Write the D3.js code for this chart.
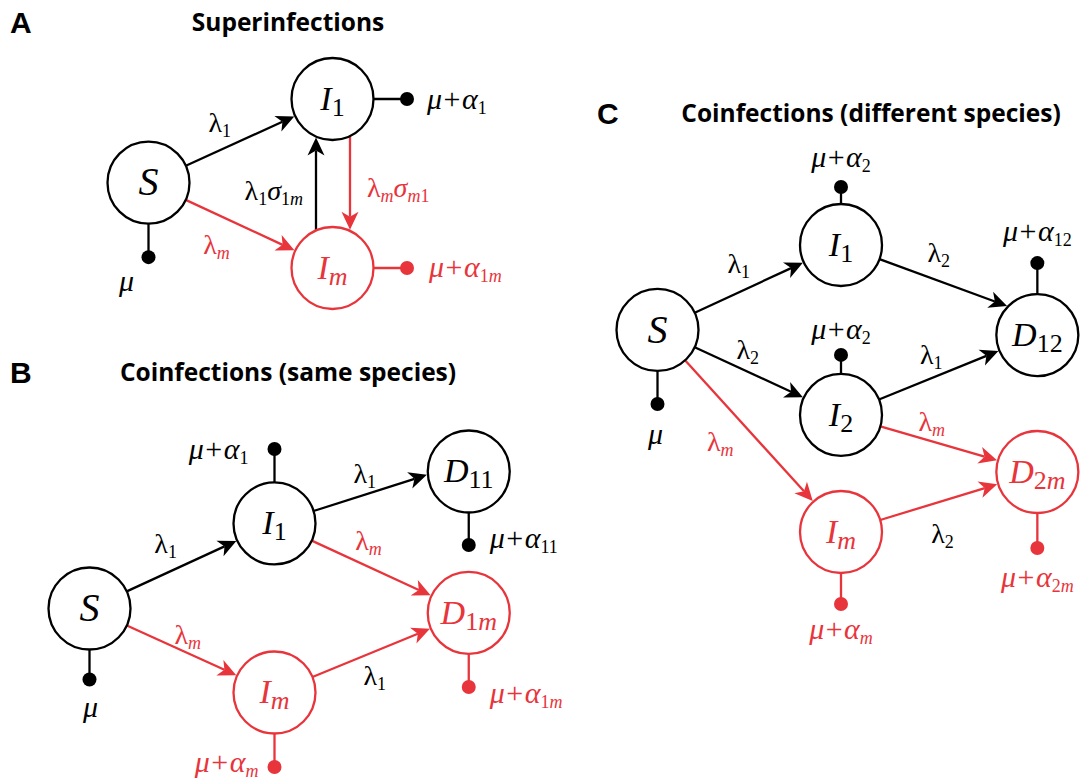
<!DOCTYPE html>
<html>
<head>
<meta charset="utf-8">
<script src="https://cdn.jsdelivr.net/npm/d3@7"></script>
<style>
  body { margin: 0; background: #fff; }
</style>
</head>
<body>
<div class="chart"></div>
<script>
var svgWidth = 1080;
var svgHeight = 781;

// ---- data ----
var panelIds = ["A", "B", "C"];
var panelTitles = ["Superinfections", "Coinfections (same species)", "Coinfections (different species)"];

// compartments: letter + subscript, placed on a column / row grid per panel
var nodesA = [
    {name: "S",  base: "S", sub: "",  col: 0, row: 0.495},
    {name: "I1", base: "I", sub: "1", col: 1, row: 0},
    {name: "Im", base: "I", sub: "m", col: 1, row: 1}
];
var nodesB = [
    {name: "S",   base: "S", sub: "",   col: 0,    row: 0.62},
    {name: "I1",  base: "I", sub: "1",  col: 1,    row: 0.235},
    {name: "Im",  base: "I", sub: "m",  col: 1,    row: 1},
    {name: "D11", base: "D", sub: "11", col: 2.05, row: 0},
    {name: "D1m", base: "D", sub: "1m", col: 2.05, row: 0.64}
];
var nodesC = [
    {name: "S",   base: "S", sub: "",   col: 0,    row: 0.296},
    {name: "I1",  base: "I", sub: "1",  col: 1,    row: 0},
    {name: "I2",  base: "I", sub: "2",  col: 1,    row: 0.592},
    {name: "Im",  base: "I", sub: "m",  col: 1,    row: 1},
    {name: "D12", base: "D", sub: "12", col: 2.07, row: 0.314},
    {name: "D2m", base: "D", sub: "2m", col: 2.07, row: 0.791}
];

// transitions with their rates (λ / σ factors)
var edgesA = [
    {from: "S",  to: "I1", rate: [["λ", "1"]], t: 0.4, off: 23},
    {from: "S",  to: "Im", rate: [["λ", "m"]], t: 0.4, off: -30},
    {from: "Im", to: "I1", rate: [["λ", "1"], ["σ", "1m"]], t: 0.4, off: 13, shift: 16.5},
    {from: "I1", to: "Im", rate: [["λ", "m"], ["σ", "m1"]], t: 0.57, off: 17, shift: 17.5}
];
var edgesB = [
    {from: "S",  to: "I1",  rate: [["λ", "1"]], t: 0.45, off: 25},
    {from: "S",  to: "Im",  rate: [["λ", "m"]], t: 0.5, off: 15},
    {from: "I1", to: "D11", rate: [["λ", "1"]], t: 0.5, off: 18, aim: -10},
    {from: "I1", to: "D1m", rate: [["λ", "m"]], t: 0.4, off: 22},
    {from: "Im", to: "D1m", rate: [["λ", "1"]], t: 0.45, off: -25}
];
var edgesC = [
    {from: "S",  to: "I1",  rate: [["λ", "1"]], t: 0.5, off: 24},
    {from: "S",  to: "I2",  rate: [["λ", "2"]], t: 0.42, off: 18},
    {from: "S",  to: "Im",  rate: [["λ", "m"]], t: 0.45, off: -30},
    {from: "I1", to: "D12", rate: [["λ", "2"]], t: 0.4, off: 24, aim: -18},
    {from: "I2", to: "D12", rate: [["λ", "1"]], t: 0.5, off: 20},
    {from: "I2", to: "D2m", rate: [["λ", "m"]], t: 0.4, off: 17},
    {from: "Im", to: "D2m", rate: [["λ", "2"]], t: 0.45, off: -33}
];

// deaths: μ (+ α with subscript)
var decaysA = [
    {node: "S",  dir: "down",  len: 33.5, sub: null, anchor: "middle", dx: -22, dy: 34},
    {node: "I1", dir: "right", len: 33.5, sub: "1",  anchor: "start",  dx: 20,  dy: 10},
    {node: "Im", dir: "right", len: 33.5, sub: "1m", anchor: "start",  dx: 22,  dy: 9}
];
var decaysB = [
    {node: "S",   dir: "down", len: 30,   sub: null, anchor: "middle", dx: 1,   dy: 37},
    {node: "I1",  dir: "up",   len: 33.5, sub: "1",  anchor: "end",    dx: -26, dy: 10},
    {node: "D11", dir: "down", len: 32.5, sub: "11", anchor: "start",  dx: 21,  dy: 3},
    {node: "D1m", dir: "down", len: 33,   sub: "1m", anchor: "start",  dx: 21,  dy: 16},
    {node: "Im",  dir: "down", len: 33.5, sub: "m",  anchor: "end",    dx: -16, dy: 5}
];
var decaysC = [
    {node: "S",   dir: "down", len: 33, sub: null, anchor: "middle", dx: -2, dy: 40},
    {node: "I1",  dir: "up",   len: 17, sub: "2",  anchor: "middle", dx: 0,  dy: -20},
    {node: "I2",  dir: "up",   len: 19, sub: "2",  anchor: "middle", dx: 0,  dy: -16},
    {node: "D12", dir: "up",   len: 31, sub: "12", anchor: "middle", dx: 0,  dy: -22},
    {node: "D2m", dir: "down", len: 35, sub: "2m", anchor: "middle", dx: 0,  dy: 39},
    {node: "Im",  dir: "down", len: 31, sub: "m",  anchor: "middle", dx: 0,  dy: 35}
];

// ---- layout ----
var red = "#e8343b";
var strainColor = d3.scaleOrdinal().domain(["0", "1", "2", "m"]).range(["#000", "#000", "#000", red]);
var R = 41;
var serif = "'Liberation Serif', 'Times New Roman', serif";

var panels = [
    {id: panelIds[0], title: panelTitles[0], nodes: nodesA, edges: edgesA, decays: decaysA,
     x: d3.scaleLinear().domain([0, 1]).range([148.5, 332.5]),
     y: d3.scaleLinear().domain([0, 1]).range([99, 268]),
     letter: [10, 33], titleAt: [288, 31]},
    {id: panelIds[1], title: panelTitles[1], nodes: nodesB, edges: edgesB, decays: decaysB,
     x: d3.scaleLinear().domain([0, 1]).range([89.5, 274.5]),
     y: d3.scaleLinear().domain([0, 1]).range([471.5, 692.5]),
     letter: [10, 383], titleAt: [288, 381]},
    {id: panelIds[2], title: panelTitles[2], nodes: nodesC, edges: edgesC, decays: decaysC,
     x: d3.scaleLinear().domain([0, 1]).range([657.5, 841]),
     y: d3.scaleLinear().domain([0, 1]).range([245, 532]),
     letter: [597, 124], titleAt: [871, 122]}
];

var svg = d3.select(".chart")
    .append("svg")
    .attr("width", svgWidth)
    .attr("height", svgHeight)
    .style("background", "#fff");

function strainOf(s) {
    if (!s) return "0";
    return s.indexOf("m") >= 0 ? "m" : s.charAt(0);
}

function isUpright(ch) {
    return /[0-9+λ]/.test(ch);
}

// math label: parts = [[base, subscript], ...]
function mathText(sel, parts, o) {
    var text = sel.append("text")
        .attr("x", o.x)
        .attr("y", o.y)
        .attr("text-anchor", o.anchor || "middle")
        .attr("fill", o.color)
        .style("font-family", serif)
        .style("font-size", o.size + "px");
    var shifted = 0;
    parts.forEach(function(p, k) {
        var b = text.append("tspan")
            .text(p[0])
            .style("font-family", serif)
            .style("font-style", isUpright(p[0]) ? "normal" : "italic");
        if (shifted) { b.attr("dy", -shifted); shifted = 0; }
        if (o.gap && k > 0) b.attr("dx", o.gap);
        if (p[1]) {
            p[1].split("").forEach(function(ch, i) {
                var s = text.append("tspan")
                    .text(ch)
                    .style("font-family", serif)
                    .style("font-size", o.subSize + "px")
                    .style("font-style", isUpright(ch) ? "normal" : "italic");
                if (i === 0) { s.attr("dy", o.subShift); shifted = o.subShift; }
            });
        }
    });
    return text;
}

// ray from o along unit d, hits circle (c, r): exit or entry distance
function hit(o, d, c, r, exit) {
    var fx = o[0] - c[0], fy = o[1] - c[1];
    var b = fx * d[0] + fy * d[1];
    var cc = fx * fx + fy * fy - r * r;
    var q = Math.sqrt(Math.max(0, b * b - cc));
    return exit ? -b + q : -b - q;
}

var headLen = 18, headW = 8.5, notch = 5;

panels.forEach(function(p) {
    var g = svg.append("g").attr("class", "panel-" + p.id);

    g.append("text")
        .attr("x", p.letter[0])
        .attr("y", p.letter[1])
        .style("font-family", "'Liberation Sans', Arial, sans-serif")
        .style("font-weight", "700")
        .style("font-size", "30px")
        .text(p.id);

    g.append("text")
        .attr("x", p.titleAt[0])
        .attr("y", p.titleAt[1])
        .attr("text-anchor", "middle")
        .style("font-family", "'Open Sans', 'Noto Sans', sans-serif")
        .style("font-weight", "700")
        .style("font-size", "24.5px")
        .text(p.title);

    var pos = {};
    p.nodes.forEach(function(n) {
        pos[n.name] = {c: [p.x(n.col), p.y(n.row)], color: strainColor(strainOf(n.sub)), node: n};
    });

    // decay stems
    p.decays.forEach(function(d) {
        var n = pos[d.node];
        var v = {down: [0, 1], up: [0, -1], right: [1, 0]}[d.dir];
        var x0 = n.c[0] + v[0] * R, y0 = n.c[1] + v[1] * R;
        var x1 = n.c[0] + v[0] * (R + d.len), y1 = n.c[1] + v[1] * (R + d.len);
        g.append("line")
            .attr("x1", x0).attr("y1", y0)
            .attr("x2", x1).attr("y2", y1)
            .attr("stroke", n.color)
            .attr("stroke-width", 2.3);
        g.append("circle")
            .attr("cx", x1).attr("cy", y1)
            .attr("r", 7)
            .attr("fill", n.color);
        var parts = d.sub === null ? [["μ", ""]] : [["μ", ""], ["+", ""], ["α", d.sub]];
        mathText(g, parts, {x: x1 + d.dx, y: y1 + d.dy, anchor: d.anchor, color: n.color,
            size: 30, subSize: 18, subShift: 5, gap: 1.5});
    });

    // transitions
    p.edges.forEach(function(e) {
        var s = pos[e.from], tg = pos[e.to];
        var aimC = [tg.c[0], tg.c[1] + (e.aim || 0)];
        var dx = aimC[0] - s.c[0], dy = aimC[1] - s.c[1];
        var L = Math.hypot(dx, dy);
        var d = [dx / L, dy / L];
        var nrm = [d[1], -d[0]];
        var sh = e.shift || 0;
        var o = [s.c[0] + nrm[0] * sh, s.c[1] + nrm[1] * sh];
        var a = hit(o, d, s.c, R, true);
        var p0 = [o[0] + d[0] * a, o[1] + d[1] * a];
        var b = hit(o, d, tg.c, R + 1, false);
        var tip = [o[0] + d[0] * b, o[1] + d[1] * b];
        var col = tg.color;
        var lineEnd = [tip[0] - d[0] * (headLen - notch), tip[1] - d[1] * (headLen - notch)];

        g.append("line")
            .attr("x1", p0[0]).attr("y1", p0[1])
            .attr("x2", lineEnd[0]).attr("y2", lineEnd[1])
            .attr("stroke", col)
            .attr("stroke-width", 2.3);

        var ang = Math.atan2(d[1], d[0]) * 180 / Math.PI;
        g.append("path")
            .attr("d", "M0,0L" + (-headLen) + "," + (-headW) + "L" + (-(headLen - notch)) + ",0L" + (-headLen) + "," + headW + "Z")
            .attr("transform", "translate(" + tip[0] + "," + tip[1] + ") rotate(" + ang + ")")
            .attr("fill", col);

        var m = [p0[0] + (tip[0] - p0[0]) * e.t, p0[1] + (tip[1] - p0[1]) * e.t];
        var lc = [m[0] + nrm[0] * e.off, m[1] + nrm[1] * e.off];
        var lx = nrm[0] * Math.sign(e.off);
        var anchor = lx < -0.8 ? "end" : (lx > 0.8 ? "start" : "middle");
        mathText(g, e.rate, {x: lc[0], y: lc[1] + 7, anchor: anchor,
            color: strainColor(strainOf(e.rate[0][1])),
            size: 28, subSize: 18, subShift: 5});
    });

    // compartments
    p.nodes.forEach(function(n) {
        var q = pos[n.name];
        g.append("circle")
            .attr("cx", q.c[0]).attr("cy", q.c[1])
            .attr("r", R)
            .attr("fill", "none")
            .attr("stroke", q.color)
            .attr("stroke-width", 2.3);
        var fs = n.base === "S" ? 40 : 34;
        mathText(g, [[n.base, n.sub]], {x: q.c[0], y: q.c[1] + fs * 0.32, anchor: "middle",
            color: q.color, size: fs, subSize: 26, subShift: 6});
    });
});
</script>
</body>
</html>
